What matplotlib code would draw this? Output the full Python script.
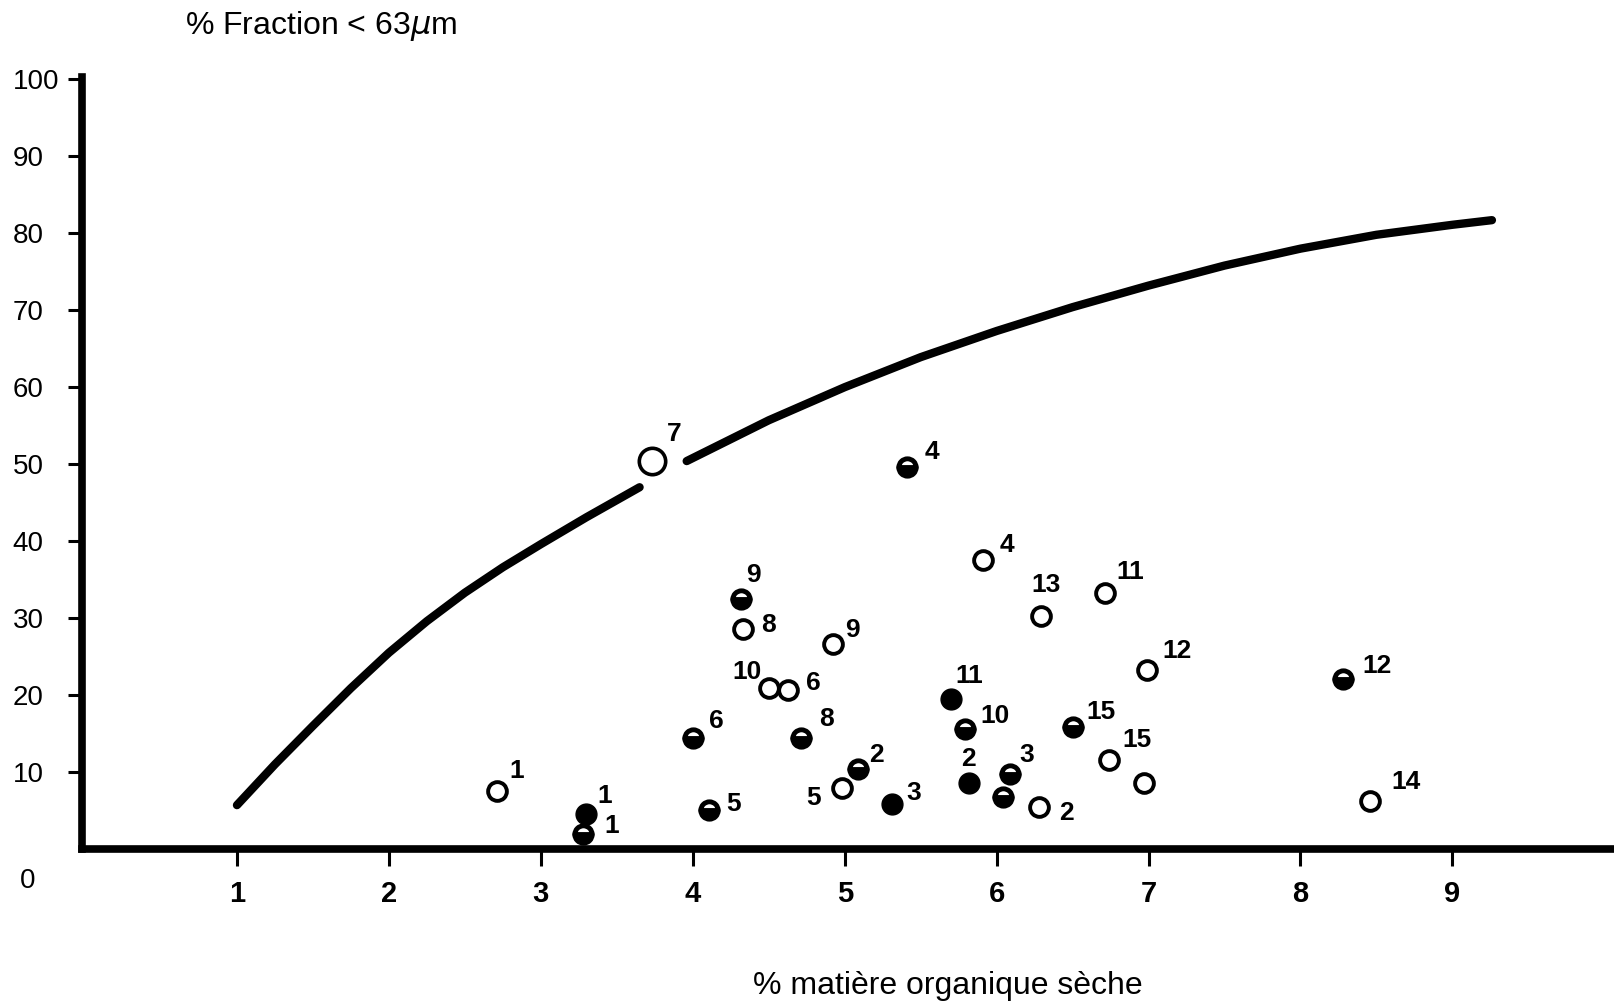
import matplotlib
matplotlib.use("Agg")
import matplotlib.pyplot as plt

# ---- data ----
curve_lower_x = [1.0, 1.25, 1.5, 1.75, 2.0, 2.25, 2.5, 2.75, 3.0, 3.3, 3.65]
curve_lower_y = [5.7, 11.0, 16.0, 20.9, 25.5, 29.6, 33.3, 36.6, 39.6, 43.1, 47.0]
curve_upper_x = [3.96, 4.5, 5.0, 5.5, 6.0, 6.5, 7.0, 7.5, 8.0, 8.5, 9.0, 9.26]
curve_upper_y = [50.4, 55.7, 60.0, 63.9, 67.3, 70.4, 73.2, 75.8, 78.0, 79.8, 81.1, 81.7]

sample_x = [2.71, 3.28, 3.30, 4.11, 4.00, 4.32, 4.33, 4.50, 4.63, 4.92,
            4.71, 4.98, 5.09, 5.31, 5.41, 5.91, 5.70, 5.79, 5.82, 6.09,
            6.04, 6.28, 6.29, 6.71, 6.99, 6.50, 6.74, 6.97, 8.28, 8.46]
sample_y = [7.5, 2.0, 4.5, 5.1, 14.4, 32.5, 28.6, 20.9, 20.7, 26.6,
            14.4, 7.9, 10.4, 5.9, 49.6, 37.6, 19.5, 15.6, 8.6, 9.8,
            6.7, 5.5, 30.3, 33.2, 23.3, 15.8, 11.6, 8.6, 22.1, 6.3]
sample_kind = ["open", "half", "filled", "half", "half", "half", "open", "open", "open", "open",
               "half", "open", "half", "filled", "half", "open", "filled", "half", "filled", "half",
               "half", "open", "open", "open", "open", "half", "open", "open", "half", "open"]
sample_label = ["1", "1", "1", "5", "6", "9", "8", "10", "6", "9",
                "8", "5", "2", "3", "4", "4", "11", "10", "2", "3",
                "", "2", "13", "11", "12", "15", "15", "", "12", "14"]

big_x = [3.73]
big_y = [50.4]
big_label = ["7"]

xtick_values = [1, 2, 3, 4, 5, 6, 7, 8, 9]
ytick_values = [10, 20, 30, 40, 50, 60, 70, 80, 90, 100]

# label offsets (layout, in reference pixels)
label_off = [(19, 20), (27, 7), (18, 18), (23, 6), (23, 17), (12, 23), (25, 4), (-21, 16), (24, 6), (19, 14),
             (25, 19), (-27, -10), (18, 14), (21, 10), (24, 15), (23, 14), (18, 22), (29, 13), (-1, 23), (16, 18),
             (0, 0), (26, -6), (5, 30), (25, 21), (29, 18), (28, 15), (27, 19), (0, 0), (33, 13), (35, 18)]
big_off = [(22, 26)]

# ---- figure ----
W, H = 1615, 1005
fig = plt.figure(figsize=(W / 100, H / 100), dpi=100)
plt.rcParams['font.family'] = ['Liberation Sans', 'DejaVu Sans']

left_px, bottom_px, top_px = 82, 849, 77
ax = fig.add_axes([left_px / W, 1 - bottom_px / H, 1 - left_px / W, (bottom_px - top_px) / H])
ax.set_xlim(-0.02, 10.07)
ax.set_ylim(0, 100.3)

for s in ["top", "right"]:
    ax.spines[s].set_visible(False)
for s in ["left", "bottom"]:
    ax.spines[s].set_linewidth(5.5)
    ax.spines[s].set_capstyle("projecting")

ax.set_xticks(xtick_values)
ax.set_xticklabels([str(v) for v in xtick_values], fontsize=21, fontweight="bold")
ax.set_yticks(ytick_values)
ax.set_yticklabels([str(v) for v in ytick_values], fontsize=20)
ax.tick_params(axis="x", direction="out", length=12, width=2.2, pad=10)
ax.tick_params(axis="y", direction="out", length=10, width=2.2, pad=40)
for lab in ax.get_yticklabels():
    lab.set_horizontalalignment("left")

# curve
for cx, cy in [(curve_lower_x, curve_lower_y), (curve_upper_x, curve_upper_y)]:
    ax.plot(cx, cy, color="black", lw=6, solid_capstyle="round", solid_joinstyle="round", zorder=2)

# samples
px2pt = 1.03 * 0.72
for x, y, k, lab, (dx, dy) in zip(sample_x, sample_y, sample_kind, sample_label, label_off):
    if k == "open":
        ax.plot(x, y, marker="o", ms=13.5, mfc="white", mec="black", mew=2.8, ls="none", zorder=3, clip_on=False)
    elif k == "filled":
        ax.plot(x, y, marker="o", ms=15, mfc="black", mec="black", mew=1, ls="none", zorder=3, clip_on=False)
    else:
        ax.plot(x, y, marker="o", ms=12.5, fillstyle="bottom", mfc="black", mfcalt="white",
                mec="black", mew=3.5, ls="none", zorder=3, clip_on=False)
    if lab:
        ax.annotate(lab, (x, y), xytext=(dx * px2pt, dy * px2pt), textcoords="offset points",
                    ha="center", va="center", fontsize=19, fontweight="bold", zorder=4)

for x, y, lab, (dx, dy) in zip(big_x, big_y, big_label, big_off):
    ax.plot(x, y, marker="o", ms=19, mfc="white", mec="black", mew=2.6, ls="none", zorder=3)
    ax.annotate(lab, (x, y), xytext=(dx * px2pt, dy * px2pt), textcoords="offset points",
                ha="center", va="center", fontsize=19, fontweight="bold", zorder=4)

# texts
fig.text(185 / W, 1 - 26 / H, r"% Fraction < 63$\mu$m", fontsize=23, ha="left", va="center")
fig.text(948 / W, 1 - 986 / H, "% matière organique sèche", fontsize=23, ha="center", va="center")
fig.text(28 / W, 1 - 881 / H, "0", fontsize=20, ha="center", va="center")

fig.savefig("out.png", dpi=100, facecolor="white")
